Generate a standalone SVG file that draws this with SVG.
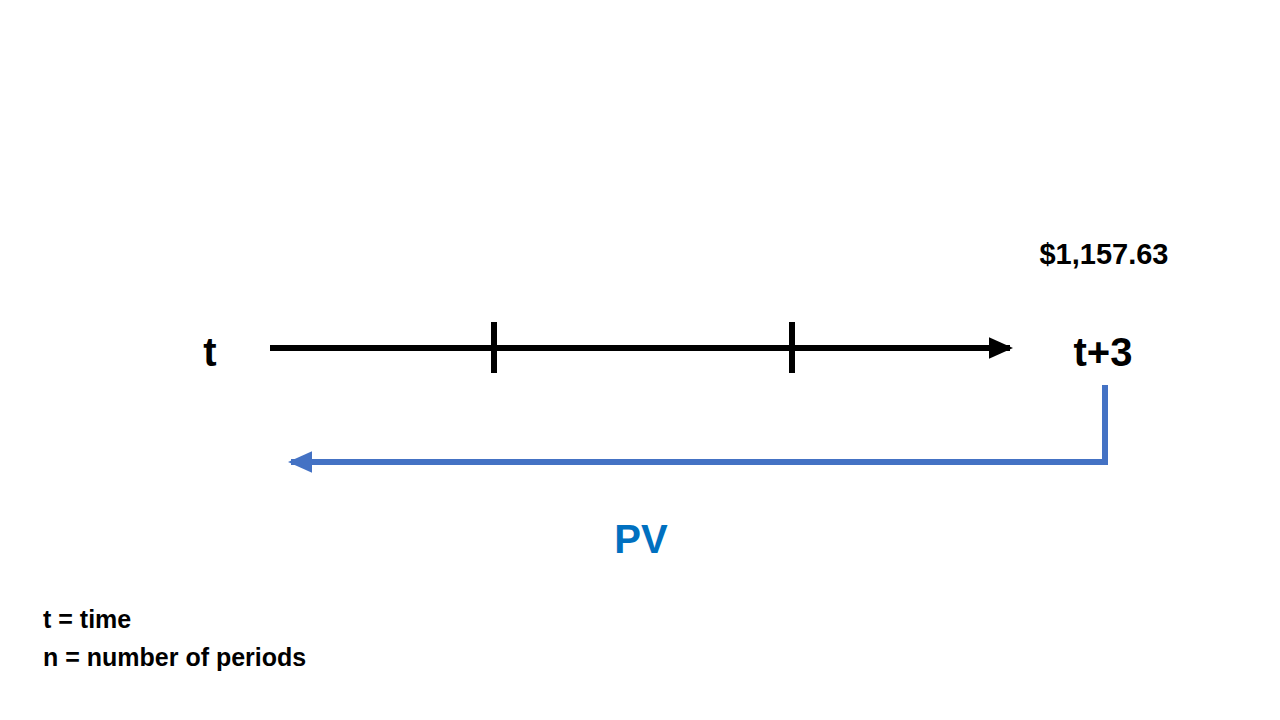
<svg xmlns="http://www.w3.org/2000/svg" width="1280" height="720" viewBox="0 0 1280 720">
<style>
text{font-family:"Liberation Sans","Open Sans",sans-serif;font-weight:bold;fill:#000}
.big{font-size:40px}
.leg{font-size:25px}
</style>
<defs>
<marker id="ab" markerWidth="4" markerHeight="4" refX="3.5" refY="2" orient="auto" markerUnits="strokeWidth"><path d="M0,0.2 L4,2 L0,3.8 z" fill="#000"/></marker>
<marker id="ablue" markerWidth="4" markerHeight="4" refX="3.5" refY="2" orient="auto" markerUnits="strokeWidth"><path d="M0,0.2 L4,2 L0,3.8 z" fill="#4472C4"/></marker>
</defs>
<rect width="1280" height="720" fill="#fff"/>
<g id="connectors">
<line x1="270" y1="348" x2="1010" y2="348" stroke="#000" stroke-width="6" marker-end="url(#ab)"/>
<line x1="494" y1="322" x2="494" y2="373" stroke="#000" stroke-width="6"/>
<line x1="792" y1="322" x2="792" y2="373" stroke="#000" stroke-width="6"/>
<polyline points="1105,385 1105,462 291,462" fill="none" stroke="#4472C4" stroke-width="6" marker-end="url(#ablue)"/>
</g>
<g id="t"><text class="big" x="210" y="366" text-anchor="middle">t</text></g>
<g id="t3"><text class="big" x="1103" y="366" text-anchor="middle">t+3</text></g>
<g id="amount"><text x="1104" y="264" font-size="29" text-anchor="middle">$1,157.63</text></g>
<g id="pv"><text class="big" x="641" y="553" text-anchor="middle" style="fill:#0070C0">PV</text></g>
<g id="legend">
<text class="leg" x="43" y="628">t = time</text>
<text class="leg" x="43" y="666">n = number of periods</text>
</g>
</svg>
